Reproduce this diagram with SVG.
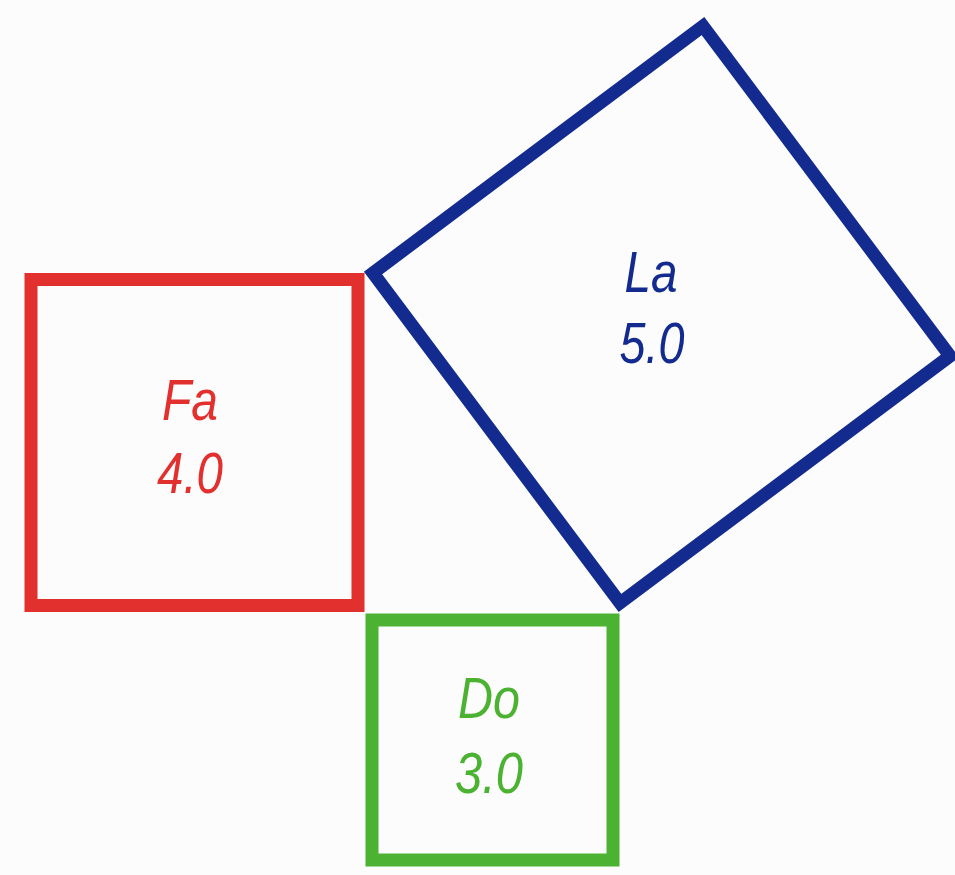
<svg xmlns="http://www.w3.org/2000/svg" width="955" height="875" viewBox="0 0 955 875">
<style>
.sq{fill:none;stroke-width:13;stroke-linejoin:miter}
.t{font-family:"Liberation Sans",Arial,sans-serif;font-style:italic;font-size:58px;text-anchor:middle}
.red{stroke:#e2302f}.redt{fill:#e2302f}
.blue{stroke:#132a8e}.bluet{fill:#132a8e}
.green{stroke:#4cb232}.greent{fill:#4cb232}
</style>
<rect width="955" height="875" fill="#fcfcfc"/>
<g id="fa">
<rect class="sq red" x="31" y="279.5" width="327" height="326"/>
<text class="t redt" x="190" y="420" textLength="56" lengthAdjust="spacingAndGlyphs">Fa</text>
<text class="t redt" x="190" y="493" textLength="66" lengthAdjust="spacingAndGlyphs">4.0</text>
</g>
<g id="la">
<polygon class="sq blue" points="373,273 703,26 950,356 620,603"/>
<text class="t bluet" x="651" y="292" font-size="60" textLength="53" lengthAdjust="spacingAndGlyphs">La</text>
<text class="t bluet" x="652" y="363" font-size="60" textLength="65" lengthAdjust="spacingAndGlyphs">5.0</text>
</g>
<g id="do">
<rect class="sq green" x="372" y="620" width="241" height="240"/>
<text class="t greent" x="489" y="718" textLength="62" lengthAdjust="spacingAndGlyphs">Do</text>
<text class="t greent" x="489" y="793" textLength="68" lengthAdjust="spacingAndGlyphs">3.0</text>
</g>
<g id="connectors"/>
</svg>
